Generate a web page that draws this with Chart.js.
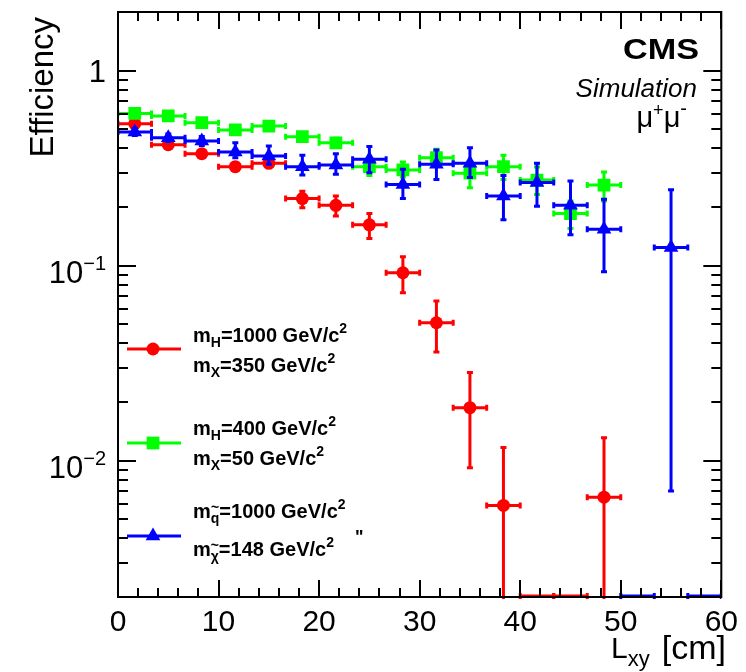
<!DOCTYPE html>
<html>
<head>
<meta charset="utf-8">
<script src="https://cdn.jsdelivr.net/npm/chart.js@4.4.1/dist/chart.umd.min.js"></script>
<style>
html,body{margin:0;padding:0;background:#ffffff;}
#wrap{width:746px;height:672px;}
</style>
</head>
<body>
<div id="wrap"><canvas id="c" width="746" height="672"></canvas></div>
<script>
// ---------- data ----------
const binCenters = [1.667, 5, 8.333, 11.667, 15, 18.333, 21.667, 25, 28.333, 31.667, 35, 38.333, 41.667, 45, 48.333, 51.667, 55, 58.333];
const binWidth = 3.333;

// red: mH=1000, mX=350 (0 = empty bin drawn at the axis floor, null = not drawn)
const redEff  = [0.535, 0.417, 0.375, 0.322, 0.335, 0.221, 0.204, 0.162, 0.092, 0.051, 0.0187, 0.0059, 0, 0, 0.0065, null, null, null];
const redLow  = [0.516, 0.403, 0.362, 0.307, 0.320, 0.198, 0.180, 0.138, 0.0727, 0.0361, 0.0092, 0, 0, 0, 0, null, null, null];
const redHigh = [0.555, 0.432, 0.389, 0.337, 0.350, 0.241, 0.228, 0.185, 0.111, 0.066, 0.0283, 0.0117, 0, 0, 0.0131, null, null, null];

// green: mH=400, mX=50
const greenEff  = [0.604, 0.586, 0.541, 0.497, 0.520, 0.459, 0.427, 0.322, 0.310, 0.358, 0.298, 0.322, 0.275, 0.185, 0.259, null, null, null];
const greenLow  = [0.585, 0.567, 0.522, 0.478, 0.500, 0.438, 0.405, 0.290, 0.285, 0.326, 0.251, 0.277, 0.232, 0.155, 0.215, null, null, null];
const greenHigh = [0.623, 0.605, 0.560, 0.516, 0.540, 0.480, 0.450, 0.350, 0.340, 0.395, 0.318, 0.368, 0.321, 0.215, 0.302, null, null, null];

// blue: m~q=1000, m~chi=148
const blueEff  = [0.485, 0.453, 0.436, 0.383, 0.365, 0.322, 0.328, 0.351, 0.261, 0.331, 0.335, 0.228, 0.267, 0.204, 0.154, 0, 0.124, 0];
const blueLow  = [0.465, 0.433, 0.413, 0.358, 0.331, 0.292, 0.294, 0.300, 0.221, 0.277, 0.283, 0.172, 0.202, 0.144, 0.093, 0, 0.0070, 0];
const blueHigh = [0.505, 0.474, 0.460, 0.427, 0.411, 0.368, 0.375, 0.408, 0.312, 0.392, 0.403, 0.290, 0.335, 0.272, 0.219, 0, 0.245, 0];

const seriesNames = ['mH=1000 GeV/c2, mX=350 GeV/c2', 'mH=400 GeV/c2, mX=50 GeV/c2', 'm~q=1000 GeV/c2, m~chi=148 GeV/c2'];
const seriesColors = ['#ff0000', '#00ff00', '#0000ff'];

const xTickValues = [0, 10, 20, 30, 40, 50, 60];
const yTickValues = [1, 0.1, 0.01];
const yTickBases  = ['1', '10', '10'];
const yTickExps   = ['', '\u22121', '\u22122'];

const xTitleMain = 'L';
const xTitleSub  = 'xy';
const xTitleUnit = '[cm]';
const yTitle = 'Efficiency';
const expLabel = 'CMS';
const expSubLabel = 'Simulation';
const channelParts = ['\u03bc', '+', '\u03bc', '-'];

// legend text: [mass symbol subscript, value text] per line
const legendLine1 = [['H', '=1000 GeV/c'], ['H', '=400 GeV/c'], ['q', '=1000 GeV/c']];
const legendLine2 = [['X', '=350 GeV/c'], ['X', '=50 GeV/c'], ['\u03c7', '=148 GeV/c']];
const legendTilde = [false, false, true];

// ---------- drawing ----------
const FAM = '"Liberation Sans", Arial, Helvetica, sans-serif';

function pts(vals) {
  return binCenters.map((x, i) => ({x: x, y: vals[i]})).filter(p => p.y !== null && p.y > 0);
}

const errSets = [
  {v: blueEff, lo: blueLow, hi: blueHigh, c: seriesColors[2]},
  {v: greenEff, lo: greenLow, hi: greenHigh, c: seriesColors[1]},
  {v: redEff, lo: redLow, hi: redHigh, c: seriesColors[0]}
];

function drawErrors(chart, set) {
  const ctx = chart.ctx, xs = chart.scales.x, ys = chart.scales.y, a = chart.chartArea;
  ctx.save();
  ctx.beginPath();
  ctx.rect(a.left, a.top, a.right - a.left, a.bottom - a.top + 2);
  ctx.clip();
  ctx.strokeStyle = set.c;
  ctx.lineWidth = 3;
  ctx.lineCap = 'butt';
  const cap = 3;
  for (let i = 0; i < binCenters.length; i++) {
    const v = set.v[i];
    if (v === null) continue;
    const px = xs.getPixelForValue(binCenters[i]);
    const x0 = xs.getPixelForValue(binCenters[i] - binWidth / 2);
    const x1 = xs.getPixelForValue(binCenters[i] + binWidth / 2);
    const py = v > 0 ? ys.getPixelForValue(v) : a.bottom - 1;
    ctx.beginPath();
    ctx.moveTo(x0, py); ctx.lineTo(x1, py);
    ctx.moveTo(x0, py - cap); ctx.lineTo(x0, py + cap);
    ctx.moveTo(x1, py - cap); ctx.lineTo(x1, py + cap);
    ctx.stroke();
    if (v > 0) {
      const top = ys.getPixelForValue(set.hi[i]);
      const bot = set.lo[i] > 0 ? ys.getPixelForValue(set.lo[i]) : a.bottom + 4;
      ctx.beginPath();
      ctx.moveTo(px, top); ctx.lineTo(px, bot);
      ctx.moveTo(px - cap, top); ctx.lineTo(px + cap, top);
      if (set.lo[i] > 0) { ctx.moveTo(px - cap, bot); ctx.lineTo(px + cap, bot); }
      ctx.stroke();
    }
  }
  ctx.restore();
}

function rich(ctx, x, y, parts, align) {
  let w = 0;
  parts.forEach(p => { ctx.font = p.f; p.w = ctx.measureText(p.t).width; w += p.w; });
  let cx = align === 'right' ? x - w : x;
  ctx.textAlign = 'left';
  ctx.textBaseline = 'alphabetic';
  parts.forEach(p => {
    ctx.font = p.f;
    ctx.fillText(p.t, cx, y + (p.dy || 0));
    if (p.acc) {
      ctx.font = 'bold 14px ' + FAM;
      ctx.textAlign = 'center';
      ctx.fillText('~', cx + p.w / 2, y + (p.dy || 0) - 11);
      ctx.textAlign = 'left';
    }
    cx += p.w;
  });
  return w;
}

function marker(ctx, style, x, y, r, color) {
  ctx.fillStyle = color;
  ctx.beginPath();
  if (style === 'circle') {
    ctx.arc(x, y, r, 0, Math.PI * 2);
  } else if (style === 'rect') {
    const s = r * Math.SQRT1_2;
    ctx.rect(x - s, y - s, 2 * s, 2 * s);
  } else {
    ctx.moveTo(x, y - r);
    ctx.lineTo(x + r * 0.866, y + r * 0.5);
    ctx.lineTo(x - r * 0.866, y + r * 0.5);
    ctx.closePath();
  }
  ctx.fill();
}

const rootStyle = {
  id: 'rootStyle',
  beforeDatasetDraw(chart, args) {
    drawErrors(chart, errSets[args.index]);
  },
  afterDraw(chart) {
    const ctx = chart.ctx, xs = chart.scales.x, ys = chart.scales.y, a = chart.chartArea;
    ctx.save();
    ctx.strokeStyle = '#000';
    ctx.fillStyle = '#000';
    ctx.lineWidth = 2;
    // frame
    ctx.strokeRect(a.left, a.top, a.right - a.left, a.bottom - a.top);
    // x ticks (bottom and top)
    ctx.beginPath();
    for (let v = 0; v <= 60; v += 2) {
      const px = Math.round(xs.getPixelForValue(v));
      const len = (v % 10 === 0) ? 17 : 9;
      ctx.moveTo(px, a.bottom); ctx.lineTo(px, a.bottom - len);
      ctx.moveTo(px, a.top); ctx.lineTo(px, a.top + len);
    }
    // y ticks (left and right)
    for (let e = -3; e <= 0; e++) {
      for (let m = 1; m <= 9; m++) {
        const v = m * Math.pow(10, e);
        if (v < 0.002 - 1e-9 || v > 2 + 1e-9) continue;
        const py = Math.round(ys.getPixelForValue(v));
        const len = m === 1 ? 18 : 10;
        ctx.moveTo(a.left, py); ctx.lineTo(a.left + len, py);
        ctx.moveTo(a.right, py); ctx.lineTo(a.right - len, py);
      }
    }
    ctx.stroke();

    // y tick labels
    ctx.fillStyle = '#000';
    yTickValues.forEach((v, i) => {
      const py = ys.getPixelForValue(v);
      if (yTickExps[i] === '') {
        rich(ctx, 106, py + 11, [{t: yTickBases[i], f: '31px ' + FAM}], 'right');
      } else {
        rich(ctx, 106, py + 17, [
          {t: yTickBases[i], f: '31px ' + FAM},
          {t: yTickExps[i], f: '20px ' + FAM, dy: -13}
        ], 'right');
      }
    });

    // y title
    ctx.save();
    ctx.translate(53, 17);
    ctx.rotate(-Math.PI / 2);
    ctx.font = '33px ' + FAM;
    ctx.textAlign = 'right';
    ctx.textBaseline = 'alphabetic';
    ctx.fillText(yTitle, 0, 0);
    ctx.restore();

    // x title
    rich(ctx, 726, 659, [{t: xTitleUnit, f: '34px ' + FAM}], 'right');
    rich(ctx, 611, 658, [
      {t: xTitleMain, f: '30px ' + FAM},
      {t: xTitleSub, f: '22px ' + FAM, dy: 8}
    ], 'left');

    // CMS label
    ctx.save();
    ctx.translate(699, 59);
    ctx.scale(1.18, 1);
    ctx.font = 'bold 29px ' + FAM;
    ctx.textAlign = 'right';
    ctx.fillText(expLabel, 0, 0);
    ctx.restore();
    ctx.save();
    ctx.font = 'italic 26px ' + FAM;
    ctx.textAlign = 'right';
    ctx.fillText(expSubLabel, 697, 97);
    ctx.restore();
    rich(ctx, 687, 127, [
      {t: channelParts[0], f: '29px ' + FAM},
      {t: channelParts[1], f: '18px ' + FAM, dy: -11},
      {t: channelParts[2], f: '29px ' + FAM},
      {t: channelParts[3], f: '20px ' + FAM, dy: -12}
    ], 'right');

    // legend
    const legY = [349, 443, 536];
    const legBase1 = [342, 435, 518];
    const legBase2 = [372, 465, 556];
    const styles = ['circle', 'rect', 'triangle'];
    const radii = [6.5, 9, 8.5];
    const F = 'bold 20px ' + FAM, FS = 'bold 14px ' + FAM;
    [0, 1, 2].forEach(k => {
      ctx.strokeStyle = seriesColors[k];
      ctx.lineWidth = 3;
      ctx.beginPath();
      ctx.moveTo(127, legY[k]); ctx.lineTo(181, legY[k]);
      ctx.stroke();
      marker(ctx, styles[k], 153, legY[k], radii[k], seriesColors[k]);
      ctx.fillStyle = '#000';
      rich(ctx, 193, legBase1[k], [
        {t: 'm', f: F},
        {t: legendLine1[k][0], f: FS, dy: 5, acc: legendTilde[k]},
        {t: legendLine1[k][1], f: F},
        {t: '2', f: FS, dy: -9}
      ], 'left');
      rich(ctx, 193, legBase2[k], [
        {t: 'm', f: F},
        {t: legendLine2[k][0], f: FS, dy: 5, acc: legendTilde[k]},
        {t: legendLine2[k][1], f: F},
        {t: '2', f: FS, dy: -9}
      ], 'left');
    });
    ctx.font = 'bold 18px ' + FAM;
    ctx.textAlign = 'left';
    ctx.fillText('"', 355, 543);
    ctx.restore();
  }
};

const chart = new Chart(document.getElementById('c'), {
  type: 'scatter',
  data: {
    datasets: [
      {label: seriesNames[2], data: pts(blueEff), pointStyle: 'triangle', pointRadius: 8.5, pointHoverRadius: 8.5,
       backgroundColor: seriesColors[2], borderColor: seriesColors[2], pointBorderWidth: 0},
      {label: seriesNames[1], data: pts(greenEff), pointStyle: 'rect', pointRadius: 9, pointHoverRadius: 9,
       backgroundColor: seriesColors[1], borderColor: seriesColors[1], pointBorderWidth: 0},
      {label: seriesNames[0], data: pts(redEff), pointStyle: 'circle', pointRadius: 6.5, pointHoverRadius: 6.5,
       backgroundColor: seriesColors[0], borderColor: seriesColors[0], pointBorderWidth: 0}
    ]
  },
  options: {
    responsive: false,
    animation: false,
    devicePixelRatio: 1,
    layout: {padding: {left: 118, right: 20, top: 12, bottom: 0}},
    plugins: {legend: {display: false}, tooltip: {enabled: false}},
    scales: {
      x: {
        type: 'linear', min: 0, max: 60,
        afterBuildTicks: s => { s.ticks = xTickValues.map(v => ({value: v})); },
        afterFit: s => { s.height = 75; },
        grid: {display: false, drawTicks: false},
        border: {display: false},
        ticks: {color: '#000', font: {family: FAM, size: 30}, padding: 8, maxRotation: 0, autoSkip: false}
      },
      y: {
        type: 'logarithmic', min: 0.002, max: 2,
        display: false
      }
    }
  },
  plugins: [rootStyle]
});
</script>
</body>
</html>
